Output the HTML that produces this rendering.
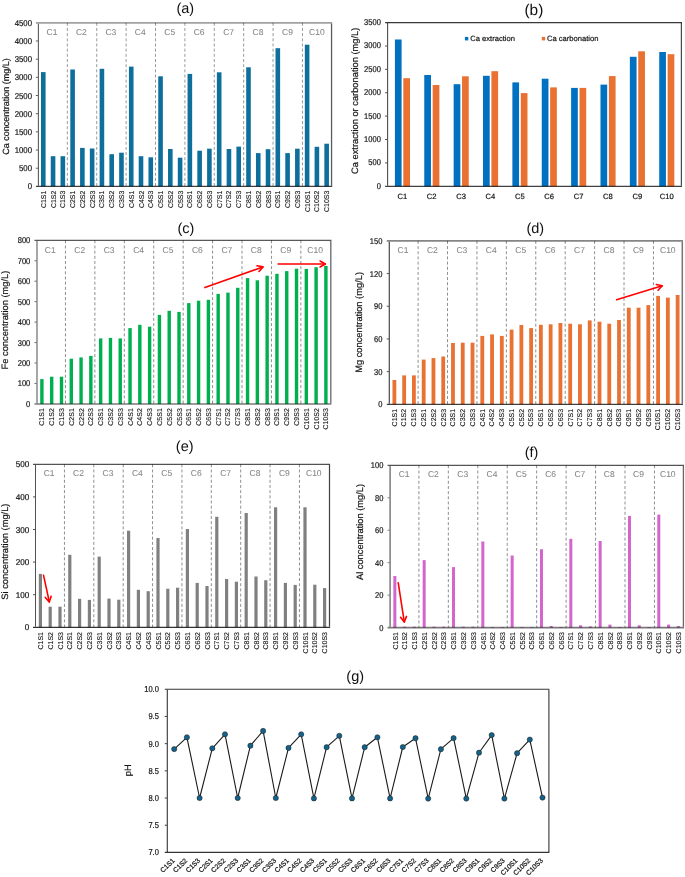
<!DOCTYPE html>
<html><head><meta charset="utf-8"><title>Figure</title>
<style>html,body{margin:0;padding:0;background:#fff;}svg{display:block;}</style>
</head><body>
<svg text-rendering="geometricPrecision" width="685" height="877" viewBox="0 0 685 877" font-family='"Liberation Sans", Arial, sans-serif'>
<rect width="685" height="877" fill="#ffffff"/>
<rect x="40.99" y="72.1" width="4.6" height="114.3" fill="#0f6f9c"/>
<rect x="50.76" y="156.2" width="4.6" height="30.2" fill="#0f6f9c"/>
<rect x="60.53" y="156.2" width="4.6" height="30.2" fill="#0f6f9c"/>
<rect x="70.3" y="69.5" width="4.6" height="116.9" fill="#0f6f9c"/>
<rect x="80.07" y="147.9" width="4.6" height="38.5" fill="#0f6f9c"/>
<rect x="89.84" y="148.5" width="4.6" height="37.9" fill="#0f6f9c"/>
<rect x="99.62" y="68.8" width="4.6" height="117.6" fill="#0f6f9c"/>
<rect x="109.39" y="154.2" width="4.6" height="32.2" fill="#0f6f9c"/>
<rect x="119.16" y="152.7" width="4.6" height="33.7" fill="#0f6f9c"/>
<rect x="128.93" y="66.6" width="4.6" height="119.8" fill="#0f6f9c"/>
<rect x="138.7" y="156.2" width="4.6" height="30.2" fill="#0f6f9c"/>
<rect x="148.47" y="157.3" width="4.6" height="29.1" fill="#0f6f9c"/>
<rect x="158.25" y="76.3" width="4.6" height="110.1" fill="#0f6f9c"/>
<rect x="168.02" y="149" width="4.6" height="37.4" fill="#0f6f9c"/>
<rect x="177.79" y="157.7" width="4.6" height="28.7" fill="#0f6f9c"/>
<rect x="187.56" y="73.9" width="4.6" height="112.5" fill="#0f6f9c"/>
<rect x="197.33" y="150.7" width="4.6" height="35.7" fill="#0f6f9c"/>
<rect x="207.1" y="148.7" width="4.6" height="37.7" fill="#0f6f9c"/>
<rect x="216.88" y="72.3" width="4.6" height="114.1" fill="#0f6f9c"/>
<rect x="226.65" y="149" width="4.6" height="37.4" fill="#0f6f9c"/>
<rect x="236.42" y="146.6" width="4.6" height="39.8" fill="#0f6f9c"/>
<rect x="246.19" y="67.3" width="4.6" height="119.1" fill="#0f6f9c"/>
<rect x="255.96" y="153.1" width="4.6" height="33.3" fill="#0f6f9c"/>
<rect x="265.73" y="149.2" width="4.6" height="37.2" fill="#0f6f9c"/>
<rect x="275.51" y="48.2" width="4.6" height="138.2" fill="#0f6f9c"/>
<rect x="285.28" y="153.1" width="4.6" height="33.3" fill="#0f6f9c"/>
<rect x="295.05" y="148.7" width="4.6" height="37.7" fill="#0f6f9c"/>
<rect x="304.82" y="44.7" width="4.6" height="141.7" fill="#0f6f9c"/>
<rect x="314.59" y="146.8" width="4.6" height="39.6" fill="#0f6f9c"/>
<rect x="324.36" y="143.7" width="4.6" height="42.7" fill="#0f6f9c"/>
<line x1="67.33" y1="22.8" x2="67.33" y2="186.4" stroke="#9a9a9a" stroke-width="1" stroke-dasharray="3,2.17"/>
<line x1="96.72" y1="22.8" x2="96.72" y2="186.4" stroke="#9a9a9a" stroke-width="1" stroke-dasharray="3,2.17"/>
<line x1="126.11" y1="22.8" x2="126.11" y2="186.4" stroke="#9a9a9a" stroke-width="1" stroke-dasharray="3,2.17"/>
<line x1="155.5" y1="22.8" x2="155.5" y2="186.4" stroke="#9a9a9a" stroke-width="1" stroke-dasharray="3,2.17"/>
<line x1="184.88" y1="22.8" x2="184.88" y2="186.4" stroke="#9a9a9a" stroke-width="1" stroke-dasharray="3,2.17"/>
<line x1="214.27" y1="22.8" x2="214.27" y2="186.4" stroke="#9a9a9a" stroke-width="1" stroke-dasharray="3,2.17"/>
<line x1="243.66" y1="22.8" x2="243.66" y2="186.4" stroke="#9a9a9a" stroke-width="1" stroke-dasharray="3,2.17"/>
<line x1="273.05" y1="22.8" x2="273.05" y2="186.4" stroke="#9a9a9a" stroke-width="1" stroke-dasharray="3,2.17"/>
<line x1="302.44" y1="22.8" x2="302.44" y2="186.4" stroke="#9a9a9a" stroke-width="1" stroke-dasharray="3,2.17"/>
<text transform="translate(51.95 34.8)" font-size="8.5" fill="#868686" text-anchor="middle" stroke="#868686" stroke-width="0.06">C1</text>
<text transform="translate(81.39 34.8)" font-size="8.5" fill="#868686" text-anchor="middle" stroke="#868686" stroke-width="0.06">C2</text>
<text transform="translate(110.83 34.8)" font-size="8.5" fill="#868686" text-anchor="middle" stroke="#868686" stroke-width="0.06">C3</text>
<text transform="translate(140.27 34.8)" font-size="8.5" fill="#868686" text-anchor="middle" stroke="#868686" stroke-width="0.06">C4</text>
<text transform="translate(169.71 34.8)" font-size="8.5" fill="#868686" text-anchor="middle" stroke="#868686" stroke-width="0.06">C5</text>
<text transform="translate(199.14 34.8)" font-size="8.5" fill="#868686" text-anchor="middle" stroke="#868686" stroke-width="0.06">C6</text>
<text transform="translate(228.58 34.8)" font-size="8.5" fill="#868686" text-anchor="middle" stroke="#868686" stroke-width="0.06">C7</text>
<text transform="translate(258.02 34.8)" font-size="8.5" fill="#868686" text-anchor="middle" stroke="#868686" stroke-width="0.06">C8</text>
<text transform="translate(287.46 34.8)" font-size="8.5" fill="#868686" text-anchor="middle" stroke="#868686" stroke-width="0.06">C9</text>
<text transform="translate(316.9 34.8)" font-size="8.5" fill="#868686" text-anchor="middle" stroke="#868686" stroke-width="0.06">C10</text>
<line x1="35.9" y1="22.8" x2="332.2" y2="22.8" stroke="#000" stroke-width="1.7" stroke-opacity="0.37"/>
<line x1="331.55" y1="23.65" x2="331.55" y2="185.75" stroke="#000" stroke-width="1.3" stroke-opacity="0.65"/>
<line x1="38.4" y1="23.65" x2="38.4" y2="185.75" stroke="#000" stroke-width="1.1" stroke-opacity="0.65"/>
<line x1="35.9" y1="186.4" x2="332.2" y2="186.4" stroke="#000" stroke-width="1.3" stroke-opacity="0.75"/>
<line x1="35.9" y1="168.22" x2="37.85" y2="168.22" stroke="#000" stroke-width="1" stroke-opacity="0.65"/>
<line x1="35.9" y1="150.04" x2="37.85" y2="150.04" stroke="#000" stroke-width="1" stroke-opacity="0.65"/>
<line x1="35.9" y1="131.87" x2="37.85" y2="131.87" stroke="#000" stroke-width="1" stroke-opacity="0.65"/>
<line x1="35.9" y1="113.69" x2="37.85" y2="113.69" stroke="#000" stroke-width="1" stroke-opacity="0.65"/>
<line x1="35.9" y1="95.51" x2="37.85" y2="95.51" stroke="#000" stroke-width="1" stroke-opacity="0.65"/>
<line x1="35.9" y1="77.33" x2="37.85" y2="77.33" stroke="#000" stroke-width="1" stroke-opacity="0.65"/>
<line x1="35.9" y1="59.16" x2="37.85" y2="59.16" stroke="#000" stroke-width="1" stroke-opacity="0.65"/>
<line x1="35.9" y1="40.98" x2="37.85" y2="40.98" stroke="#000" stroke-width="1" stroke-opacity="0.65"/>
<text transform="translate(32 189.4) scale(0.93 1)" font-size="8.4" fill="#141414" text-anchor="end" stroke="#141414" stroke-width="0.2">0</text>
<text transform="translate(32 171.22) scale(0.93 1)" font-size="8.4" fill="#141414" text-anchor="end" stroke="#141414" stroke-width="0.2">500</text>
<text transform="translate(32 153.04) scale(0.93 1)" font-size="8.4" fill="#141414" text-anchor="end" stroke="#141414" stroke-width="0.2">1000</text>
<text transform="translate(32 134.87) scale(0.93 1)" font-size="8.4" fill="#141414" text-anchor="end" stroke="#141414" stroke-width="0.2">1500</text>
<text transform="translate(32 116.69) scale(0.93 1)" font-size="8.4" fill="#141414" text-anchor="end" stroke="#141414" stroke-width="0.2">2000</text>
<text transform="translate(32 98.51) scale(0.93 1)" font-size="8.4" fill="#141414" text-anchor="end" stroke="#141414" stroke-width="0.2">2500</text>
<text transform="translate(32 80.33) scale(0.93 1)" font-size="8.4" fill="#141414" text-anchor="end" stroke="#141414" stroke-width="0.2">3000</text>
<text transform="translate(32 62.16) scale(0.93 1)" font-size="8.4" fill="#141414" text-anchor="end" stroke="#141414" stroke-width="0.2">3500</text>
<text transform="translate(32 43.98) scale(0.93 1)" font-size="8.4" fill="#141414" text-anchor="end" stroke="#141414" stroke-width="0.2">4000</text>
<text transform="translate(32 25.8) scale(0.93 1)" font-size="8.4" fill="#141414" text-anchor="end" stroke="#141414" stroke-width="0.2">4500</text>
<text transform="translate(45.81 190.6) rotate(-90)" font-size="7" fill="#141414" text-anchor="end" stroke="#141414" stroke-width="0.12">C1S1</text>
<text transform="translate(55.58 190.6) rotate(-90)" font-size="7" fill="#141414" text-anchor="end" stroke="#141414" stroke-width="0.12">C1S2</text>
<text transform="translate(65.35 190.6) rotate(-90)" font-size="7" fill="#141414" text-anchor="end" stroke="#141414" stroke-width="0.12">C1S3</text>
<text transform="translate(75.12 190.6) rotate(-90)" font-size="7" fill="#141414" text-anchor="end" stroke="#141414" stroke-width="0.12">C2S1</text>
<text transform="translate(84.89 190.6) rotate(-90)" font-size="7" fill="#141414" text-anchor="end" stroke="#141414" stroke-width="0.12">C2S2</text>
<text transform="translate(94.66 190.6) rotate(-90)" font-size="7" fill="#141414" text-anchor="end" stroke="#141414" stroke-width="0.12">C2S3</text>
<text transform="translate(104.44 190.6) rotate(-90)" font-size="7" fill="#141414" text-anchor="end" stroke="#141414" stroke-width="0.12">C3S1</text>
<text transform="translate(114.21 190.6) rotate(-90)" font-size="7" fill="#141414" text-anchor="end" stroke="#141414" stroke-width="0.12">C3S2</text>
<text transform="translate(123.98 190.6) rotate(-90)" font-size="7" fill="#141414" text-anchor="end" stroke="#141414" stroke-width="0.12">C3S3</text>
<text transform="translate(133.75 190.6) rotate(-90)" font-size="7" fill="#141414" text-anchor="end" stroke="#141414" stroke-width="0.12">C4S1</text>
<text transform="translate(143.52 190.6) rotate(-90)" font-size="7" fill="#141414" text-anchor="end" stroke="#141414" stroke-width="0.12">C4S2</text>
<text transform="translate(153.29 190.6) rotate(-90)" font-size="7" fill="#141414" text-anchor="end" stroke="#141414" stroke-width="0.12">C4S3</text>
<text transform="translate(163.07 190.6) rotate(-90)" font-size="7" fill="#141414" text-anchor="end" stroke="#141414" stroke-width="0.12">C5S1</text>
<text transform="translate(172.84 190.6) rotate(-90)" font-size="7" fill="#141414" text-anchor="end" stroke="#141414" stroke-width="0.12">C5S2</text>
<text transform="translate(182.61 190.6) rotate(-90)" font-size="7" fill="#141414" text-anchor="end" stroke="#141414" stroke-width="0.12">C5S3</text>
<text transform="translate(192.38 190.6) rotate(-90)" font-size="7" fill="#141414" text-anchor="end" stroke="#141414" stroke-width="0.12">C6S1</text>
<text transform="translate(202.15 190.6) rotate(-90)" font-size="7" fill="#141414" text-anchor="end" stroke="#141414" stroke-width="0.12">C6S2</text>
<text transform="translate(211.92 190.6) rotate(-90)" font-size="7" fill="#141414" text-anchor="end" stroke="#141414" stroke-width="0.12">C6S3</text>
<text transform="translate(221.7 190.6) rotate(-90)" font-size="7" fill="#141414" text-anchor="end" stroke="#141414" stroke-width="0.12">C7S1</text>
<text transform="translate(231.47 190.6) rotate(-90)" font-size="7" fill="#141414" text-anchor="end" stroke="#141414" stroke-width="0.12">C7S2</text>
<text transform="translate(241.24 190.6) rotate(-90)" font-size="7" fill="#141414" text-anchor="end" stroke="#141414" stroke-width="0.12">C7S3</text>
<text transform="translate(251.01 190.6) rotate(-90)" font-size="7" fill="#141414" text-anchor="end" stroke="#141414" stroke-width="0.12">C8S1</text>
<text transform="translate(260.78 190.6) rotate(-90)" font-size="7" fill="#141414" text-anchor="end" stroke="#141414" stroke-width="0.12">C8S2</text>
<text transform="translate(270.55 190.6) rotate(-90)" font-size="7" fill="#141414" text-anchor="end" stroke="#141414" stroke-width="0.12">C8S3</text>
<text transform="translate(280.33 190.6) rotate(-90)" font-size="7" fill="#141414" text-anchor="end" stroke="#141414" stroke-width="0.12">C9S1</text>
<text transform="translate(290.1 190.6) rotate(-90)" font-size="7" fill="#141414" text-anchor="end" stroke="#141414" stroke-width="0.12">C9S2</text>
<text transform="translate(299.87 190.6) rotate(-90)" font-size="7" fill="#141414" text-anchor="end" stroke="#141414" stroke-width="0.12">C9S3</text>
<text transform="translate(309.64 190.6) rotate(-90)" font-size="7" fill="#141414" text-anchor="end" stroke="#141414" stroke-width="0.12">C10S1</text>
<text transform="translate(319.41 190.6) rotate(-90)" font-size="7" fill="#141414" text-anchor="end" stroke="#141414" stroke-width="0.12">C10S2</text>
<text transform="translate(329.18 190.6) rotate(-90)" font-size="7" fill="#141414" text-anchor="end" stroke="#141414" stroke-width="0.12">C10S3</text>
<text transform="translate(8.6 106.6) rotate(-90)" font-size="9" fill="#141414" text-anchor="middle" stroke="#141414" stroke-width="0.2">Ca concentration (mg/L)</text>
<text transform="translate(185.3 12.7)" font-size="14.5" fill="#111" text-anchor="middle">(a)</text>
<rect x="40.2" y="379.1" width="3.4" height="24.8" fill="#00b050"/>
<rect x="49.99" y="376.7" width="3.4" height="27.2" fill="#00b050"/>
<rect x="59.78" y="376.7" width="3.4" height="27.2" fill="#00b050"/>
<rect x="69.58" y="358.7" width="3.4" height="45.2" fill="#00b050"/>
<rect x="79.37" y="357.4" width="3.4" height="46.5" fill="#00b050"/>
<rect x="89.16" y="355.9" width="3.4" height="48" fill="#00b050"/>
<rect x="98.96" y="338.4" width="3.4" height="65.5" fill="#00b050"/>
<rect x="108.75" y="337.9" width="3.4" height="66" fill="#00b050"/>
<rect x="118.54" y="338.4" width="3.4" height="65.5" fill="#00b050"/>
<rect x="128.34" y="328.1" width="3.4" height="75.8" fill="#00b050"/>
<rect x="138.13" y="324.8" width="3.4" height="79.1" fill="#00b050"/>
<rect x="147.92" y="326.7" width="3.4" height="77.2" fill="#00b050"/>
<rect x="157.72" y="314.9" width="3.4" height="89" fill="#00b050"/>
<rect x="167.51" y="310.8" width="3.4" height="93.1" fill="#00b050"/>
<rect x="177.3" y="311.9" width="3.4" height="92" fill="#00b050"/>
<rect x="187.1" y="303.1" width="3.4" height="100.8" fill="#00b050"/>
<rect x="196.89" y="300.7" width="3.4" height="103.2" fill="#00b050"/>
<rect x="206.68" y="299.8" width="3.4" height="104.1" fill="#00b050"/>
<rect x="216.48" y="293.9" width="3.4" height="110" fill="#00b050"/>
<rect x="226.27" y="292.6" width="3.4" height="111.3" fill="#00b050"/>
<rect x="236.06" y="287.8" width="3.4" height="116.1" fill="#00b050"/>
<rect x="245.86" y="278.1" width="3.4" height="125.8" fill="#00b050"/>
<rect x="255.65" y="280.3" width="3.4" height="123.6" fill="#00b050"/>
<rect x="265.44" y="275.7" width="3.4" height="128.2" fill="#00b050"/>
<rect x="275.24" y="273.8" width="3.4" height="130.1" fill="#00b050"/>
<rect x="285.03" y="271.1" width="3.4" height="132.8" fill="#00b050"/>
<rect x="294.82" y="268.7" width="3.4" height="135.2" fill="#00b050"/>
<rect x="304.62" y="268.9" width="3.4" height="135" fill="#00b050"/>
<rect x="314.41" y="267.2" width="3.4" height="136.7" fill="#00b050"/>
<rect x="324.2" y="265.9" width="3.4" height="138" fill="#00b050"/>
<line x1="65.44" y1="240.3" x2="65.44" y2="403.9" stroke="#8f8f8f" stroke-width="1" stroke-dasharray="3,2.17"/>
<line x1="94.87" y1="240.3" x2="94.87" y2="403.9" stroke="#8f8f8f" stroke-width="1" stroke-dasharray="3,2.17"/>
<line x1="124.3" y1="240.3" x2="124.3" y2="403.9" stroke="#8f8f8f" stroke-width="1" stroke-dasharray="3,2.17"/>
<line x1="153.73" y1="240.3" x2="153.73" y2="403.9" stroke="#8f8f8f" stroke-width="1" stroke-dasharray="3,2.17"/>
<line x1="183.16" y1="240.3" x2="183.16" y2="403.9" stroke="#8f8f8f" stroke-width="1" stroke-dasharray="3,2.17"/>
<line x1="212.58" y1="240.3" x2="212.58" y2="403.9" stroke="#8f8f8f" stroke-width="1" stroke-dasharray="3,2.17"/>
<line x1="242.01" y1="240.3" x2="242.01" y2="403.9" stroke="#8f8f8f" stroke-width="1" stroke-dasharray="3,2.17"/>
<line x1="271.44" y1="240.3" x2="271.44" y2="403.9" stroke="#8f8f8f" stroke-width="1" stroke-dasharray="3,2.17"/>
<line x1="300.87" y1="240.3" x2="300.87" y2="403.9" stroke="#8f8f8f" stroke-width="1" stroke-dasharray="3,2.17"/>
<text transform="translate(50.3 252.8)" font-size="8.5" fill="#868686" text-anchor="middle" stroke="#868686" stroke-width="0.06">C1</text>
<text transform="translate(79.72 252.8)" font-size="8.5" fill="#868686" text-anchor="middle" stroke="#868686" stroke-width="0.06">C2</text>
<text transform="translate(109.14 252.8)" font-size="8.5" fill="#868686" text-anchor="middle" stroke="#868686" stroke-width="0.06">C3</text>
<text transform="translate(138.57 252.8)" font-size="8.5" fill="#868686" text-anchor="middle" stroke="#868686" stroke-width="0.06">C4</text>
<text transform="translate(167.99 252.8)" font-size="8.5" fill="#868686" text-anchor="middle" stroke="#868686" stroke-width="0.06">C5</text>
<text transform="translate(197.41 252.8)" font-size="8.5" fill="#868686" text-anchor="middle" stroke="#868686" stroke-width="0.06">C6</text>
<text transform="translate(226.83 252.8)" font-size="8.5" fill="#868686" text-anchor="middle" stroke="#868686" stroke-width="0.06">C7</text>
<text transform="translate(256.26 252.8)" font-size="8.5" fill="#868686" text-anchor="middle" stroke="#868686" stroke-width="0.06">C8</text>
<text transform="translate(285.68 252.8)" font-size="8.5" fill="#868686" text-anchor="middle" stroke="#868686" stroke-width="0.06">C9</text>
<text transform="translate(315.1 252.8)" font-size="8.5" fill="#868686" text-anchor="middle" stroke="#868686" stroke-width="0.06">C10</text>
<line x1="34.5" y1="240.3" x2="331.45" y2="240.3" stroke="#000" stroke-width="1.3" stroke-opacity="0.65"/>
<line x1="330.8" y1="240.95" x2="330.8" y2="403.15" stroke="#000" stroke-width="1.3" stroke-opacity="0.6"/>
<line x1="37" y1="240.95" x2="37" y2="403.15" stroke="#000" stroke-width="1.2" stroke-opacity="0.58"/>
<line x1="34.5" y1="403.9" x2="331.45" y2="403.9" stroke="#000" stroke-width="1.5" stroke-opacity="0.53"/>
<line x1="34.5" y1="383.45" x2="36.4" y2="383.45" stroke="#000" stroke-width="1" stroke-opacity="0.58"/>
<line x1="34.5" y1="363" x2="36.4" y2="363" stroke="#000" stroke-width="1" stroke-opacity="0.58"/>
<line x1="34.5" y1="342.55" x2="36.4" y2="342.55" stroke="#000" stroke-width="1" stroke-opacity="0.58"/>
<line x1="34.5" y1="322.1" x2="36.4" y2="322.1" stroke="#000" stroke-width="1" stroke-opacity="0.58"/>
<line x1="34.5" y1="301.65" x2="36.4" y2="301.65" stroke="#000" stroke-width="1" stroke-opacity="0.58"/>
<line x1="34.5" y1="281.2" x2="36.4" y2="281.2" stroke="#000" stroke-width="1" stroke-opacity="0.58"/>
<line x1="34.5" y1="260.75" x2="36.4" y2="260.75" stroke="#000" stroke-width="1" stroke-opacity="0.58"/>
<text transform="translate(30.3 406.9) scale(0.9 1)" font-size="8.4" fill="#141414" text-anchor="end" stroke="#141414" stroke-width="0.2">0</text>
<text transform="translate(30.3 386.45) scale(0.9 1)" font-size="8.4" fill="#141414" text-anchor="end" stroke="#141414" stroke-width="0.2">100</text>
<text transform="translate(30.3 366) scale(0.9 1)" font-size="8.4" fill="#141414" text-anchor="end" stroke="#141414" stroke-width="0.2">200</text>
<text transform="translate(30.3 345.55) scale(0.9 1)" font-size="8.4" fill="#141414" text-anchor="end" stroke="#141414" stroke-width="0.2">300</text>
<text transform="translate(30.3 325.1) scale(0.9 1)" font-size="8.4" fill="#141414" text-anchor="end" stroke="#141414" stroke-width="0.2">400</text>
<text transform="translate(30.3 304.65) scale(0.9 1)" font-size="8.4" fill="#141414" text-anchor="end" stroke="#141414" stroke-width="0.2">500</text>
<text transform="translate(30.3 284.2) scale(0.9 1)" font-size="8.4" fill="#141414" text-anchor="end" stroke="#141414" stroke-width="0.2">600</text>
<text transform="translate(30.3 263.75) scale(0.9 1)" font-size="8.4" fill="#141414" text-anchor="end" stroke="#141414" stroke-width="0.2">700</text>
<text transform="translate(30.3 243.3) scale(0.9 1)" font-size="8.4" fill="#141414" text-anchor="end" stroke="#141414" stroke-width="0.2">800</text>
<text transform="translate(44.42 408.2) rotate(-90)" font-size="7" fill="#141414" text-anchor="end" stroke="#141414" stroke-width="0.12">C1S1</text>
<text transform="translate(54.21 408.2) rotate(-90)" font-size="7" fill="#141414" text-anchor="end" stroke="#141414" stroke-width="0.12">C1S2</text>
<text transform="translate(64 408.2) rotate(-90)" font-size="7" fill="#141414" text-anchor="end" stroke="#141414" stroke-width="0.12">C1S3</text>
<text transform="translate(73.8 408.2) rotate(-90)" font-size="7" fill="#141414" text-anchor="end" stroke="#141414" stroke-width="0.12">C2S1</text>
<text transform="translate(83.59 408.2) rotate(-90)" font-size="7" fill="#141414" text-anchor="end" stroke="#141414" stroke-width="0.12">C2S2</text>
<text transform="translate(93.38 408.2) rotate(-90)" font-size="7" fill="#141414" text-anchor="end" stroke="#141414" stroke-width="0.12">C2S3</text>
<text transform="translate(103.18 408.2) rotate(-90)" font-size="7" fill="#141414" text-anchor="end" stroke="#141414" stroke-width="0.12">C3S1</text>
<text transform="translate(112.97 408.2) rotate(-90)" font-size="7" fill="#141414" text-anchor="end" stroke="#141414" stroke-width="0.12">C3S2</text>
<text transform="translate(122.76 408.2) rotate(-90)" font-size="7" fill="#141414" text-anchor="end" stroke="#141414" stroke-width="0.12">C3S3</text>
<text transform="translate(132.56 408.2) rotate(-90)" font-size="7" fill="#141414" text-anchor="end" stroke="#141414" stroke-width="0.12">C4S1</text>
<text transform="translate(142.35 408.2) rotate(-90)" font-size="7" fill="#141414" text-anchor="end" stroke="#141414" stroke-width="0.12">C4S2</text>
<text transform="translate(152.14 408.2) rotate(-90)" font-size="7" fill="#141414" text-anchor="end" stroke="#141414" stroke-width="0.12">C4S3</text>
<text transform="translate(161.94 408.2) rotate(-90)" font-size="7" fill="#141414" text-anchor="end" stroke="#141414" stroke-width="0.12">C5S1</text>
<text transform="translate(171.73 408.2) rotate(-90)" font-size="7" fill="#141414" text-anchor="end" stroke="#141414" stroke-width="0.12">C5S2</text>
<text transform="translate(181.52 408.2) rotate(-90)" font-size="7" fill="#141414" text-anchor="end" stroke="#141414" stroke-width="0.12">C5S3</text>
<text transform="translate(191.32 408.2) rotate(-90)" font-size="7" fill="#141414" text-anchor="end" stroke="#141414" stroke-width="0.12">C6S1</text>
<text transform="translate(201.11 408.2) rotate(-90)" font-size="7" fill="#141414" text-anchor="end" stroke="#141414" stroke-width="0.12">C6S2</text>
<text transform="translate(210.9 408.2) rotate(-90)" font-size="7" fill="#141414" text-anchor="end" stroke="#141414" stroke-width="0.12">C6S3</text>
<text transform="translate(220.7 408.2) rotate(-90)" font-size="7" fill="#141414" text-anchor="end" stroke="#141414" stroke-width="0.12">C7S1</text>
<text transform="translate(230.49 408.2) rotate(-90)" font-size="7" fill="#141414" text-anchor="end" stroke="#141414" stroke-width="0.12">C7S2</text>
<text transform="translate(240.28 408.2) rotate(-90)" font-size="7" fill="#141414" text-anchor="end" stroke="#141414" stroke-width="0.12">C7S3</text>
<text transform="translate(250.08 408.2) rotate(-90)" font-size="7" fill="#141414" text-anchor="end" stroke="#141414" stroke-width="0.12">C8S1</text>
<text transform="translate(259.87 408.2) rotate(-90)" font-size="7" fill="#141414" text-anchor="end" stroke="#141414" stroke-width="0.12">C8S2</text>
<text transform="translate(269.66 408.2) rotate(-90)" font-size="7" fill="#141414" text-anchor="end" stroke="#141414" stroke-width="0.12">C8S3</text>
<text transform="translate(279.46 408.2) rotate(-90)" font-size="7" fill="#141414" text-anchor="end" stroke="#141414" stroke-width="0.12">C9S1</text>
<text transform="translate(289.25 408.2) rotate(-90)" font-size="7" fill="#141414" text-anchor="end" stroke="#141414" stroke-width="0.12">C9S2</text>
<text transform="translate(299.04 408.2) rotate(-90)" font-size="7" fill="#141414" text-anchor="end" stroke="#141414" stroke-width="0.12">C9S3</text>
<text transform="translate(308.84 408.2) rotate(-90)" font-size="7" fill="#141414" text-anchor="end" stroke="#141414" stroke-width="0.12">C10S1</text>
<text transform="translate(318.63 408.2) rotate(-90)" font-size="7" fill="#141414" text-anchor="end" stroke="#141414" stroke-width="0.12">C10S2</text>
<text transform="translate(328.42 408.2) rotate(-90)" font-size="7" fill="#141414" text-anchor="end" stroke="#141414" stroke-width="0.12">C10S3</text>
<text transform="translate(7.8 320.1) rotate(-90)" font-size="9.3" fill="#141414" text-anchor="middle" stroke="#141414" stroke-width="0.2">Fe concentration (mg/L)</text>
<text transform="translate(185.9 232.9)" font-size="14.5" fill="#111" text-anchor="middle">(c)</text>
<rect x="392.48" y="380" width="3.8" height="24.3" fill="#e97132"/>
<rect x="402.25" y="375.4" width="3.8" height="28.9" fill="#e97132"/>
<rect x="412.02" y="375.4" width="3.8" height="28.9" fill="#e97132"/>
<rect x="421.78" y="359.6" width="3.8" height="44.7" fill="#e97132"/>
<rect x="431.55" y="358.1" width="3.8" height="46.2" fill="#e97132"/>
<rect x="441.32" y="356.5" width="3.8" height="47.8" fill="#e97132"/>
<rect x="451.08" y="343" width="3.8" height="61.3" fill="#e97132"/>
<rect x="460.85" y="342.7" width="3.8" height="61.6" fill="#e97132"/>
<rect x="470.62" y="342.7" width="3.8" height="61.6" fill="#e97132"/>
<rect x="480.38" y="335.9" width="3.8" height="68.4" fill="#e97132"/>
<rect x="490.15" y="334.4" width="3.8" height="69.9" fill="#e97132"/>
<rect x="499.92" y="335.9" width="3.8" height="68.4" fill="#e97132"/>
<rect x="509.68" y="329.6" width="3.8" height="74.7" fill="#e97132"/>
<rect x="519.45" y="325" width="3.8" height="79.3" fill="#e97132"/>
<rect x="529.22" y="328.1" width="3.8" height="76.2" fill="#e97132"/>
<rect x="538.98" y="324.8" width="3.8" height="79.5" fill="#e97132"/>
<rect x="548.75" y="324.3" width="3.8" height="80" fill="#e97132"/>
<rect x="558.52" y="323" width="3.8" height="81.3" fill="#e97132"/>
<rect x="568.28" y="323.7" width="3.8" height="80.6" fill="#e97132"/>
<rect x="578.05" y="324.3" width="3.8" height="80" fill="#e97132"/>
<rect x="587.82" y="320.4" width="3.8" height="83.9" fill="#e97132"/>
<rect x="597.58" y="321.7" width="3.8" height="82.6" fill="#e97132"/>
<rect x="607.35" y="323.7" width="3.8" height="80.6" fill="#e97132"/>
<rect x="617.12" y="320" width="3.8" height="84.3" fill="#e97132"/>
<rect x="626.88" y="307.7" width="3.8" height="96.6" fill="#e97132"/>
<rect x="636.65" y="307.7" width="3.8" height="96.6" fill="#e97132"/>
<rect x="646.42" y="305.1" width="3.8" height="99.2" fill="#e97132"/>
<rect x="656.18" y="295.9" width="3.8" height="108.4" fill="#e97132"/>
<rect x="665.95" y="297.6" width="3.8" height="106.7" fill="#e97132"/>
<rect x="675.72" y="295" width="3.8" height="109.3" fill="#e97132"/>
<line x1="418.1" y1="240.9" x2="418.1" y2="404.3" stroke="#8f8f8f" stroke-width="1" stroke-dasharray="3,2.17"/>
<line x1="447.52" y1="240.9" x2="447.52" y2="404.3" stroke="#8f8f8f" stroke-width="1" stroke-dasharray="3,2.17"/>
<line x1="476.94" y1="240.9" x2="476.94" y2="404.3" stroke="#8f8f8f" stroke-width="1" stroke-dasharray="3,2.17"/>
<line x1="506.35" y1="240.9" x2="506.35" y2="404.3" stroke="#8f8f8f" stroke-width="1" stroke-dasharray="3,2.17"/>
<line x1="535.77" y1="240.9" x2="535.77" y2="404.3" stroke="#8f8f8f" stroke-width="1" stroke-dasharray="3,2.17"/>
<line x1="565.19" y1="240.9" x2="565.19" y2="404.3" stroke="#8f8f8f" stroke-width="1" stroke-dasharray="3,2.17"/>
<line x1="594.61" y1="240.9" x2="594.61" y2="404.3" stroke="#8f8f8f" stroke-width="1" stroke-dasharray="3,2.17"/>
<line x1="624.02" y1="240.9" x2="624.02" y2="404.3" stroke="#8f8f8f" stroke-width="1" stroke-dasharray="3,2.17"/>
<line x1="653.44" y1="240.9" x2="653.44" y2="404.3" stroke="#8f8f8f" stroke-width="1" stroke-dasharray="3,2.17"/>
<text transform="translate(403 252.9)" font-size="8.5" fill="#868686" text-anchor="middle" stroke="#868686" stroke-width="0.06">C1</text>
<text transform="translate(432.42 252.9)" font-size="8.5" fill="#868686" text-anchor="middle" stroke="#868686" stroke-width="0.06">C2</text>
<text transform="translate(461.84 252.9)" font-size="8.5" fill="#868686" text-anchor="middle" stroke="#868686" stroke-width="0.06">C3</text>
<text transform="translate(491.27 252.9)" font-size="8.5" fill="#868686" text-anchor="middle" stroke="#868686" stroke-width="0.06">C4</text>
<text transform="translate(520.69 252.9)" font-size="8.5" fill="#868686" text-anchor="middle" stroke="#868686" stroke-width="0.06">C5</text>
<text transform="translate(550.11 252.9)" font-size="8.5" fill="#868686" text-anchor="middle" stroke="#868686" stroke-width="0.06">C6</text>
<text transform="translate(579.53 252.9)" font-size="8.5" fill="#868686" text-anchor="middle" stroke="#868686" stroke-width="0.06">C7</text>
<text transform="translate(608.96 252.9)" font-size="8.5" fill="#868686" text-anchor="middle" stroke="#868686" stroke-width="0.06">C8</text>
<text transform="translate(638.38 252.9)" font-size="8.5" fill="#868686" text-anchor="middle" stroke="#868686" stroke-width="0.06">C9</text>
<text transform="translate(667.8 252.9)" font-size="8.5" fill="#868686" text-anchor="middle" stroke="#868686" stroke-width="0.06">C10</text>
<line x1="386.8" y1="240.9" x2="683.05" y2="240.9" stroke="#000" stroke-width="1.7" stroke-opacity="0.48"/>
<line x1="682.3" y1="241.75" x2="682.3" y2="403.65" stroke="#000" stroke-width="1.5" stroke-opacity="0.55"/>
<line x1="389.3" y1="241.75" x2="389.3" y2="403.65" stroke="#000" stroke-width="1.2" stroke-opacity="0.72"/>
<line x1="386.8" y1="404.3" x2="683.05" y2="404.3" stroke="#000" stroke-width="1.3" stroke-opacity="0.75"/>
<line x1="386.8" y1="371.62" x2="388.7" y2="371.62" stroke="#000" stroke-width="1" stroke-opacity="0.72"/>
<line x1="386.8" y1="338.94" x2="388.7" y2="338.94" stroke="#000" stroke-width="1" stroke-opacity="0.72"/>
<line x1="386.8" y1="306.26" x2="388.7" y2="306.26" stroke="#000" stroke-width="1" stroke-opacity="0.72"/>
<line x1="386.8" y1="273.58" x2="388.7" y2="273.58" stroke="#000" stroke-width="1" stroke-opacity="0.72"/>
<text transform="translate(382.4 407.3) scale(0.9 1)" font-size="8.4" fill="#141414" text-anchor="end" stroke="#141414" stroke-width="0.2">0</text>
<text transform="translate(382.4 374.62) scale(0.9 1)" font-size="8.4" fill="#141414" text-anchor="end" stroke="#141414" stroke-width="0.2">30</text>
<text transform="translate(382.4 341.94) scale(0.9 1)" font-size="8.4" fill="#141414" text-anchor="end" stroke="#141414" stroke-width="0.2">60</text>
<text transform="translate(382.4 309.26) scale(0.9 1)" font-size="8.4" fill="#141414" text-anchor="end" stroke="#141414" stroke-width="0.2">90</text>
<text transform="translate(382.4 276.58) scale(0.9 1)" font-size="8.4" fill="#141414" text-anchor="end" stroke="#141414" stroke-width="0.2">120</text>
<text transform="translate(382.4 243.9) scale(0.9 1)" font-size="8.4" fill="#141414" text-anchor="end" stroke="#141414" stroke-width="0.2">150</text>
<text transform="translate(396.7 408.9) rotate(-90)" font-size="7" fill="#141414" text-anchor="end" stroke="#141414" stroke-width="0.12">C1S1</text>
<text transform="translate(406.47 408.9) rotate(-90)" font-size="7" fill="#141414" text-anchor="end" stroke="#141414" stroke-width="0.12">C1S2</text>
<text transform="translate(416.24 408.9) rotate(-90)" font-size="7" fill="#141414" text-anchor="end" stroke="#141414" stroke-width="0.12">C1S3</text>
<text transform="translate(426 408.9) rotate(-90)" font-size="7" fill="#141414" text-anchor="end" stroke="#141414" stroke-width="0.12">C2S1</text>
<text transform="translate(435.77 408.9) rotate(-90)" font-size="7" fill="#141414" text-anchor="end" stroke="#141414" stroke-width="0.12">C2S2</text>
<text transform="translate(445.54 408.9) rotate(-90)" font-size="7" fill="#141414" text-anchor="end" stroke="#141414" stroke-width="0.12">C2S3</text>
<text transform="translate(455.3 408.9) rotate(-90)" font-size="7" fill="#141414" text-anchor="end" stroke="#141414" stroke-width="0.12">C3S1</text>
<text transform="translate(465.07 408.9) rotate(-90)" font-size="7" fill="#141414" text-anchor="end" stroke="#141414" stroke-width="0.12">C3S2</text>
<text transform="translate(474.84 408.9) rotate(-90)" font-size="7" fill="#141414" text-anchor="end" stroke="#141414" stroke-width="0.12">C3S3</text>
<text transform="translate(484.6 408.9) rotate(-90)" font-size="7" fill="#141414" text-anchor="end" stroke="#141414" stroke-width="0.12">C4S1</text>
<text transform="translate(494.37 408.9) rotate(-90)" font-size="7" fill="#141414" text-anchor="end" stroke="#141414" stroke-width="0.12">C4S2</text>
<text transform="translate(504.14 408.9) rotate(-90)" font-size="7" fill="#141414" text-anchor="end" stroke="#141414" stroke-width="0.12">C4S3</text>
<text transform="translate(513.9 408.9) rotate(-90)" font-size="7" fill="#141414" text-anchor="end" stroke="#141414" stroke-width="0.12">C5S1</text>
<text transform="translate(523.67 408.9) rotate(-90)" font-size="7" fill="#141414" text-anchor="end" stroke="#141414" stroke-width="0.12">C5S2</text>
<text transform="translate(533.44 408.9) rotate(-90)" font-size="7" fill="#141414" text-anchor="end" stroke="#141414" stroke-width="0.12">C5S3</text>
<text transform="translate(543.2 408.9) rotate(-90)" font-size="7" fill="#141414" text-anchor="end" stroke="#141414" stroke-width="0.12">C6S1</text>
<text transform="translate(552.97 408.9) rotate(-90)" font-size="7" fill="#141414" text-anchor="end" stroke="#141414" stroke-width="0.12">C6S2</text>
<text transform="translate(562.74 408.9) rotate(-90)" font-size="7" fill="#141414" text-anchor="end" stroke="#141414" stroke-width="0.12">C6S3</text>
<text transform="translate(572.5 408.9) rotate(-90)" font-size="7" fill="#141414" text-anchor="end" stroke="#141414" stroke-width="0.12">C7S1</text>
<text transform="translate(582.27 408.9) rotate(-90)" font-size="7" fill="#141414" text-anchor="end" stroke="#141414" stroke-width="0.12">C7S2</text>
<text transform="translate(592.04 408.9) rotate(-90)" font-size="7" fill="#141414" text-anchor="end" stroke="#141414" stroke-width="0.12">C7S3</text>
<text transform="translate(601.8 408.9) rotate(-90)" font-size="7" fill="#141414" text-anchor="end" stroke="#141414" stroke-width="0.12">C8S1</text>
<text transform="translate(611.57 408.9) rotate(-90)" font-size="7" fill="#141414" text-anchor="end" stroke="#141414" stroke-width="0.12">C8S2</text>
<text transform="translate(621.34 408.9) rotate(-90)" font-size="7" fill="#141414" text-anchor="end" stroke="#141414" stroke-width="0.12">C8S3</text>
<text transform="translate(631.1 408.9) rotate(-90)" font-size="7" fill="#141414" text-anchor="end" stroke="#141414" stroke-width="0.12">C9S1</text>
<text transform="translate(640.87 408.9) rotate(-90)" font-size="7" fill="#141414" text-anchor="end" stroke="#141414" stroke-width="0.12">C9S2</text>
<text transform="translate(650.64 408.9) rotate(-90)" font-size="7" fill="#141414" text-anchor="end" stroke="#141414" stroke-width="0.12">C9S3</text>
<text transform="translate(660.4 408.9) rotate(-90)" font-size="7" fill="#141414" text-anchor="end" stroke="#141414" stroke-width="0.12">C10S1</text>
<text transform="translate(670.17 408.9) rotate(-90)" font-size="7" fill="#141414" text-anchor="end" stroke="#141414" stroke-width="0.12">C10S2</text>
<text transform="translate(679.94 408.9) rotate(-90)" font-size="7" fill="#141414" text-anchor="end" stroke="#141414" stroke-width="0.12">C10S3</text>
<text transform="translate(361.8 322.4) rotate(-90)" font-size="9.3" fill="#141414" text-anchor="middle" stroke="#141414" stroke-width="0.2">Mg concentration (mg/L)</text>
<text transform="translate(535.3 232.9)" font-size="14.5" fill="#111" text-anchor="middle">(d)</text>
<rect x="38.8" y="573.9" width="3.2" height="53.4" fill="#808080"/>
<rect x="48.6" y="606.7" width="3.2" height="20.6" fill="#808080"/>
<rect x="58.4" y="606.7" width="3.2" height="20.6" fill="#808080"/>
<rect x="68.2" y="554.8" width="3.2" height="72.5" fill="#808080"/>
<rect x="78" y="598.8" width="3.2" height="28.5" fill="#808080"/>
<rect x="87.8" y="599.9" width="3.2" height="27.4" fill="#808080"/>
<rect x="97.6" y="556.6" width="3.2" height="70.7" fill="#808080"/>
<rect x="107.4" y="598.6" width="3.2" height="28.7" fill="#808080"/>
<rect x="117.2" y="599.7" width="3.2" height="27.6" fill="#808080"/>
<rect x="127" y="530.7" width="3.2" height="96.6" fill="#808080"/>
<rect x="136.8" y="589.8" width="3.2" height="37.5" fill="#808080"/>
<rect x="146.6" y="591.2" width="3.2" height="36.1" fill="#808080"/>
<rect x="156.4" y="538" width="3.2" height="89.3" fill="#808080"/>
<rect x="166.2" y="588.7" width="3.2" height="38.6" fill="#808080"/>
<rect x="176" y="587.7" width="3.2" height="39.6" fill="#808080"/>
<rect x="185.8" y="529" width="3.2" height="98.3" fill="#808080"/>
<rect x="195.6" y="582.9" width="3.2" height="44.4" fill="#808080"/>
<rect x="205.4" y="586" width="3.2" height="41.3" fill="#808080"/>
<rect x="215.2" y="516.8" width="3.2" height="110.5" fill="#808080"/>
<rect x="225" y="579" width="3.2" height="48.3" fill="#808080"/>
<rect x="234.8" y="581.7" width="3.2" height="45.6" fill="#808080"/>
<rect x="244.6" y="513" width="3.2" height="114.3" fill="#808080"/>
<rect x="254.4" y="576.5" width="3.2" height="50.8" fill="#808080"/>
<rect x="264.2" y="580.2" width="3.2" height="47.1" fill="#808080"/>
<rect x="274" y="507.3" width="3.2" height="120" fill="#808080"/>
<rect x="283.8" y="582.9" width="3.2" height="44.4" fill="#808080"/>
<rect x="293.6" y="584.9" width="3.2" height="42.4" fill="#808080"/>
<rect x="303.4" y="507.3" width="3.2" height="120" fill="#808080"/>
<rect x="313.2" y="584.7" width="3.2" height="42.6" fill="#808080"/>
<rect x="323" y="588.1" width="3.2" height="39.2" fill="#808080"/>
<line x1="64.44" y1="464.3" x2="64.44" y2="627.3" stroke="#8f8f8f" stroke-width="1" stroke-dasharray="3,2.17"/>
<line x1="93.81" y1="464.3" x2="93.81" y2="627.3" stroke="#8f8f8f" stroke-width="1" stroke-dasharray="3,2.17"/>
<line x1="123.19" y1="464.3" x2="123.19" y2="627.3" stroke="#8f8f8f" stroke-width="1" stroke-dasharray="3,2.17"/>
<line x1="152.56" y1="464.3" x2="152.56" y2="627.3" stroke="#8f8f8f" stroke-width="1" stroke-dasharray="3,2.17"/>
<line x1="181.94" y1="464.3" x2="181.94" y2="627.3" stroke="#8f8f8f" stroke-width="1" stroke-dasharray="3,2.17"/>
<line x1="211.31" y1="464.3" x2="211.31" y2="627.3" stroke="#8f8f8f" stroke-width="1" stroke-dasharray="3,2.17"/>
<line x1="240.69" y1="464.3" x2="240.69" y2="627.3" stroke="#8f8f8f" stroke-width="1" stroke-dasharray="3,2.17"/>
<line x1="270.06" y1="464.3" x2="270.06" y2="627.3" stroke="#8f8f8f" stroke-width="1" stroke-dasharray="3,2.17"/>
<line x1="299.44" y1="464.3" x2="299.44" y2="627.3" stroke="#8f8f8f" stroke-width="1" stroke-dasharray="3,2.17"/>
<text transform="translate(49.15 476.2)" font-size="8.5" fill="#868686" text-anchor="middle" stroke="#868686" stroke-width="0.06">C1</text>
<text transform="translate(78.56 476.2)" font-size="8.5" fill="#868686" text-anchor="middle" stroke="#868686" stroke-width="0.06">C2</text>
<text transform="translate(107.96 476.2)" font-size="8.5" fill="#868686" text-anchor="middle" stroke="#868686" stroke-width="0.06">C3</text>
<text transform="translate(137.37 476.2)" font-size="8.5" fill="#868686" text-anchor="middle" stroke="#868686" stroke-width="0.06">C4</text>
<text transform="translate(166.77 476.2)" font-size="8.5" fill="#868686" text-anchor="middle" stroke="#868686" stroke-width="0.06">C5</text>
<text transform="translate(196.18 476.2)" font-size="8.5" fill="#868686" text-anchor="middle" stroke="#868686" stroke-width="0.06">C6</text>
<text transform="translate(225.58 476.2)" font-size="8.5" fill="#868686" text-anchor="middle" stroke="#868686" stroke-width="0.06">C7</text>
<text transform="translate(254.99 476.2)" font-size="8.5" fill="#868686" text-anchor="middle" stroke="#868686" stroke-width="0.06">C8</text>
<text transform="translate(284.39 476.2)" font-size="8.5" fill="#868686" text-anchor="middle" stroke="#868686" stroke-width="0.06">C9</text>
<text transform="translate(313.8 476.2)" font-size="8.5" fill="#868686" text-anchor="middle" stroke="#868686" stroke-width="0.06">C10</text>
<line x1="33" y1="464.3" x2="330.1" y2="464.3" stroke="#000" stroke-width="1.2" stroke-opacity="0.68"/>
<line x1="329.5" y1="464.9" x2="329.5" y2="626.65" stroke="#000" stroke-width="1.2" stroke-opacity="0.75"/>
<line x1="35.5" y1="464.9" x2="35.5" y2="626.65" stroke="#000" stroke-width="1" stroke-opacity="0.68"/>
<line x1="33" y1="627.3" x2="330.1" y2="627.3" stroke="#000" stroke-width="1.3" stroke-opacity="0.8"/>
<line x1="33" y1="594.7" x2="35" y2="594.7" stroke="#000" stroke-width="1" stroke-opacity="0.68"/>
<line x1="33" y1="562.1" x2="35" y2="562.1" stroke="#000" stroke-width="1" stroke-opacity="0.68"/>
<line x1="33" y1="529.5" x2="35" y2="529.5" stroke="#000" stroke-width="1" stroke-opacity="0.68"/>
<line x1="33" y1="496.9" x2="35" y2="496.9" stroke="#000" stroke-width="1" stroke-opacity="0.68"/>
<text transform="translate(29.2 630.3) scale(0.97 1)" font-size="8.4" fill="#141414" text-anchor="end" stroke="#141414" stroke-width="0.2">0</text>
<text transform="translate(29.2 597.7) scale(0.97 1)" font-size="8.4" fill="#141414" text-anchor="end" stroke="#141414" stroke-width="0.2">100</text>
<text transform="translate(29.2 565.1) scale(0.97 1)" font-size="8.4" fill="#141414" text-anchor="end" stroke="#141414" stroke-width="0.2">200</text>
<text transform="translate(29.2 532.5) scale(0.97 1)" font-size="8.4" fill="#141414" text-anchor="end" stroke="#141414" stroke-width="0.2">300</text>
<text transform="translate(29.2 499.9) scale(0.97 1)" font-size="8.4" fill="#141414" text-anchor="end" stroke="#141414" stroke-width="0.2">400</text>
<text transform="translate(29.2 467.3) scale(0.97 1)" font-size="8.4" fill="#141414" text-anchor="end" stroke="#141414" stroke-width="0.2">500</text>
<text transform="translate(42.92 632) rotate(-90)" font-size="7" fill="#141414" text-anchor="end" stroke="#141414" stroke-width="0.12">C1S1</text>
<text transform="translate(52.72 632) rotate(-90)" font-size="7" fill="#141414" text-anchor="end" stroke="#141414" stroke-width="0.12">C1S2</text>
<text transform="translate(62.52 632) rotate(-90)" font-size="7" fill="#141414" text-anchor="end" stroke="#141414" stroke-width="0.12">C1S3</text>
<text transform="translate(72.32 632) rotate(-90)" font-size="7" fill="#141414" text-anchor="end" stroke="#141414" stroke-width="0.12">C2S1</text>
<text transform="translate(82.12 632) rotate(-90)" font-size="7" fill="#141414" text-anchor="end" stroke="#141414" stroke-width="0.12">C2S2</text>
<text transform="translate(91.92 632) rotate(-90)" font-size="7" fill="#141414" text-anchor="end" stroke="#141414" stroke-width="0.12">C2S3</text>
<text transform="translate(101.72 632) rotate(-90)" font-size="7" fill="#141414" text-anchor="end" stroke="#141414" stroke-width="0.12">C3S1</text>
<text transform="translate(111.52 632) rotate(-90)" font-size="7" fill="#141414" text-anchor="end" stroke="#141414" stroke-width="0.12">C3S2</text>
<text transform="translate(121.32 632) rotate(-90)" font-size="7" fill="#141414" text-anchor="end" stroke="#141414" stroke-width="0.12">C3S3</text>
<text transform="translate(131.12 632) rotate(-90)" font-size="7" fill="#141414" text-anchor="end" stroke="#141414" stroke-width="0.12">C4S1</text>
<text transform="translate(140.92 632) rotate(-90)" font-size="7" fill="#141414" text-anchor="end" stroke="#141414" stroke-width="0.12">C4S2</text>
<text transform="translate(150.72 632) rotate(-90)" font-size="7" fill="#141414" text-anchor="end" stroke="#141414" stroke-width="0.12">C4S3</text>
<text transform="translate(160.52 632) rotate(-90)" font-size="7" fill="#141414" text-anchor="end" stroke="#141414" stroke-width="0.12">C5S1</text>
<text transform="translate(170.32 632) rotate(-90)" font-size="7" fill="#141414" text-anchor="end" stroke="#141414" stroke-width="0.12">C5S2</text>
<text transform="translate(180.12 632) rotate(-90)" font-size="7" fill="#141414" text-anchor="end" stroke="#141414" stroke-width="0.12">C5S3</text>
<text transform="translate(189.92 632) rotate(-90)" font-size="7" fill="#141414" text-anchor="end" stroke="#141414" stroke-width="0.12">C6S1</text>
<text transform="translate(199.72 632) rotate(-90)" font-size="7" fill="#141414" text-anchor="end" stroke="#141414" stroke-width="0.12">C6S2</text>
<text transform="translate(209.52 632) rotate(-90)" font-size="7" fill="#141414" text-anchor="end" stroke="#141414" stroke-width="0.12">C6S3</text>
<text transform="translate(219.32 632) rotate(-90)" font-size="7" fill="#141414" text-anchor="end" stroke="#141414" stroke-width="0.12">C7S1</text>
<text transform="translate(229.12 632) rotate(-90)" font-size="7" fill="#141414" text-anchor="end" stroke="#141414" stroke-width="0.12">C7S2</text>
<text transform="translate(238.92 632) rotate(-90)" font-size="7" fill="#141414" text-anchor="end" stroke="#141414" stroke-width="0.12">C7S3</text>
<text transform="translate(248.72 632) rotate(-90)" font-size="7" fill="#141414" text-anchor="end" stroke="#141414" stroke-width="0.12">C8S1</text>
<text transform="translate(258.52 632) rotate(-90)" font-size="7" fill="#141414" text-anchor="end" stroke="#141414" stroke-width="0.12">C8S2</text>
<text transform="translate(268.32 632) rotate(-90)" font-size="7" fill="#141414" text-anchor="end" stroke="#141414" stroke-width="0.12">C8S3</text>
<text transform="translate(278.12 632) rotate(-90)" font-size="7" fill="#141414" text-anchor="end" stroke="#141414" stroke-width="0.12">C9S1</text>
<text transform="translate(287.92 632) rotate(-90)" font-size="7" fill="#141414" text-anchor="end" stroke="#141414" stroke-width="0.12">C9S2</text>
<text transform="translate(297.72 632) rotate(-90)" font-size="7" fill="#141414" text-anchor="end" stroke="#141414" stroke-width="0.12">C9S3</text>
<text transform="translate(307.52 632) rotate(-90)" font-size="7" fill="#141414" text-anchor="end" stroke="#141414" stroke-width="0.12">C10S1</text>
<text transform="translate(317.32 632) rotate(-90)" font-size="7" fill="#141414" text-anchor="end" stroke="#141414" stroke-width="0.12">C10S2</text>
<text transform="translate(327.12 632) rotate(-90)" font-size="7" fill="#141414" text-anchor="end" stroke="#141414" stroke-width="0.12">C10S3</text>
<text transform="translate(8.4 551.6) rotate(-90)" font-size="9.3" fill="#141414" text-anchor="middle" stroke="#141414" stroke-width="0.2">Si concentration (mg/L)</text>
<text transform="translate(184.7 450.8)" font-size="14.5" fill="#111" text-anchor="middle">(e)</text>
<rect x="393.34" y="576" width="3" height="51.6" fill="#d465cc"/>
<rect x="403.12" y="626.7" width="3" height="0.9" fill="#d465cc"/>
<rect x="412.89" y="626.7" width="3" height="0.9" fill="#d465cc"/>
<rect x="422.67" y="560.1" width="3" height="67.5" fill="#d465cc"/>
<rect x="432.45" y="626.7" width="3" height="0.9" fill="#d465cc"/>
<rect x="442.22" y="626.7" width="3" height="0.9" fill="#d465cc"/>
<rect x="452" y="567.1" width="3" height="60.5" fill="#d465cc"/>
<rect x="461.78" y="626.7" width="3" height="0.9" fill="#d465cc"/>
<rect x="471.55" y="626.7" width="3" height="0.9" fill="#d465cc"/>
<rect x="481.33" y="541.5" width="3" height="86.1" fill="#d465cc"/>
<rect x="491.11" y="627" width="3" height="0.6" fill="#d465cc"/>
<rect x="500.88" y="627" width="3" height="0.6" fill="#d465cc"/>
<rect x="510.66" y="555.5" width="3" height="72.1" fill="#d465cc"/>
<rect x="520.44" y="627" width="3" height="0.6" fill="#d465cc"/>
<rect x="530.21" y="627" width="3" height="0.6" fill="#d465cc"/>
<rect x="539.99" y="549.2" width="3" height="78.4" fill="#d465cc"/>
<rect x="549.76" y="626" width="3" height="1.6" fill="#d465cc"/>
<rect x="559.54" y="627" width="3" height="0.6" fill="#d465cc"/>
<rect x="569.32" y="538.8" width="3" height="88.8" fill="#d465cc"/>
<rect x="579.1" y="625.3" width="3" height="2.3" fill="#d465cc"/>
<rect x="588.87" y="626.4" width="3" height="1.2" fill="#d465cc"/>
<rect x="598.65" y="541" width="3" height="86.6" fill="#d465cc"/>
<rect x="608.43" y="624.6" width="3" height="3" fill="#d465cc"/>
<rect x="618.2" y="627" width="3" height="0.6" fill="#d465cc"/>
<rect x="627.98" y="515.9" width="3" height="111.7" fill="#d465cc"/>
<rect x="637.75" y="625.3" width="3" height="2.3" fill="#d465cc"/>
<rect x="647.53" y="627" width="3" height="0.6" fill="#d465cc"/>
<rect x="657.31" y="514.6" width="3" height="113" fill="#d465cc"/>
<rect x="667.09" y="624.6" width="3" height="3" fill="#d465cc"/>
<rect x="676.86" y="626" width="3" height="1.6" fill="#d465cc"/>
<line x1="418.9" y1="465.3" x2="418.9" y2="627.6" stroke="#8f8f8f" stroke-width="1" stroke-dasharray="3,2.17"/>
<line x1="448.34" y1="465.3" x2="448.34" y2="627.6" stroke="#8f8f8f" stroke-width="1" stroke-dasharray="3,2.17"/>
<line x1="477.78" y1="465.3" x2="477.78" y2="627.6" stroke="#8f8f8f" stroke-width="1" stroke-dasharray="3,2.17"/>
<line x1="507.23" y1="465.3" x2="507.23" y2="627.6" stroke="#8f8f8f" stroke-width="1" stroke-dasharray="3,2.17"/>
<line x1="536.67" y1="465.3" x2="536.67" y2="627.6" stroke="#8f8f8f" stroke-width="1" stroke-dasharray="3,2.17"/>
<line x1="566.11" y1="465.3" x2="566.11" y2="627.6" stroke="#8f8f8f" stroke-width="1" stroke-dasharray="3,2.17"/>
<line x1="595.56" y1="465.3" x2="595.56" y2="627.6" stroke="#8f8f8f" stroke-width="1" stroke-dasharray="3,2.17"/>
<line x1="625" y1="465.3" x2="625" y2="627.6" stroke="#8f8f8f" stroke-width="1" stroke-dasharray="3,2.17"/>
<line x1="654.44" y1="465.3" x2="654.44" y2="627.6" stroke="#8f8f8f" stroke-width="1" stroke-dasharray="3,2.17"/>
<text transform="translate(404.1 476.5)" font-size="8.5" fill="#868686" text-anchor="middle" stroke="#868686" stroke-width="0.06">C1</text>
<text transform="translate(433.4 476.5)" font-size="8.5" fill="#868686" text-anchor="middle" stroke="#868686" stroke-width="0.06">C2</text>
<text transform="translate(462.7 476.5)" font-size="8.5" fill="#868686" text-anchor="middle" stroke="#868686" stroke-width="0.06">C3</text>
<text transform="translate(492 476.5)" font-size="8.5" fill="#868686" text-anchor="middle" stroke="#868686" stroke-width="0.06">C4</text>
<text transform="translate(521.3 476.5)" font-size="8.5" fill="#868686" text-anchor="middle" stroke="#868686" stroke-width="0.06">C5</text>
<text transform="translate(550.6 476.5)" font-size="8.5" fill="#868686" text-anchor="middle" stroke="#868686" stroke-width="0.06">C6</text>
<text transform="translate(579.9 476.5)" font-size="8.5" fill="#868686" text-anchor="middle" stroke="#868686" stroke-width="0.06">C7</text>
<text transform="translate(609.2 476.5)" font-size="8.5" fill="#868686" text-anchor="middle" stroke="#868686" stroke-width="0.06">C8</text>
<text transform="translate(638.5 476.5)" font-size="8.5" fill="#868686" text-anchor="middle" stroke="#868686" stroke-width="0.06">C9</text>
<text transform="translate(667.8 476.5)" font-size="8.5" fill="#868686" text-anchor="middle" stroke="#868686" stroke-width="0.06">C10</text>
<line x1="387.6" y1="465.3" x2="684.05" y2="465.3" stroke="#000" stroke-width="1.2" stroke-opacity="0.67"/>
<line x1="683.4" y1="465.9" x2="683.4" y2="626.8" stroke="#000" stroke-width="1.3" stroke-opacity="0.6"/>
<line x1="390.1" y1="465.9" x2="390.1" y2="626.8" stroke="#000" stroke-width="1.5" stroke-opacity="0.52"/>
<line x1="387.6" y1="627.6" x2="684.05" y2="627.6" stroke="#000" stroke-width="1.6" stroke-opacity="0.53"/>
<line x1="387.6" y1="595.14" x2="389.35" y2="595.14" stroke="#000" stroke-width="1" stroke-opacity="0.52"/>
<line x1="387.6" y1="562.68" x2="389.35" y2="562.68" stroke="#000" stroke-width="1" stroke-opacity="0.52"/>
<line x1="387.6" y1="530.22" x2="389.35" y2="530.22" stroke="#000" stroke-width="1" stroke-opacity="0.52"/>
<line x1="387.6" y1="497.76" x2="389.35" y2="497.76" stroke="#000" stroke-width="1" stroke-opacity="0.52"/>
<text transform="translate(383.4 630.6) scale(0.9 1)" font-size="8.4" fill="#141414" text-anchor="end" stroke="#141414" stroke-width="0.2">0</text>
<text transform="translate(383.4 598.14) scale(0.9 1)" font-size="8.4" fill="#141414" text-anchor="end" stroke="#141414" stroke-width="0.2">20</text>
<text transform="translate(383.4 565.68) scale(0.9 1)" font-size="8.4" fill="#141414" text-anchor="end" stroke="#141414" stroke-width="0.2">40</text>
<text transform="translate(383.4 533.22) scale(0.9 1)" font-size="8.4" fill="#141414" text-anchor="end" stroke="#141414" stroke-width="0.2">60</text>
<text transform="translate(383.4 500.76) scale(0.9 1)" font-size="8.4" fill="#141414" text-anchor="end" stroke="#141414" stroke-width="0.2">80</text>
<text transform="translate(383.4 468.3) scale(0.9 1)" font-size="8.4" fill="#141414" text-anchor="end" stroke="#141414" stroke-width="0.2">100</text>
<text transform="translate(397.51 632) rotate(-90)" font-size="7" fill="#141414" text-anchor="end" stroke="#141414" stroke-width="0.12">C1S1</text>
<text transform="translate(407.29 632) rotate(-90)" font-size="7" fill="#141414" text-anchor="end" stroke="#141414" stroke-width="0.12">C1S2</text>
<text transform="translate(417.06 632) rotate(-90)" font-size="7" fill="#141414" text-anchor="end" stroke="#141414" stroke-width="0.12">C1S3</text>
<text transform="translate(426.84 632) rotate(-90)" font-size="7" fill="#141414" text-anchor="end" stroke="#141414" stroke-width="0.12">C2S1</text>
<text transform="translate(436.62 632) rotate(-90)" font-size="7" fill="#141414" text-anchor="end" stroke="#141414" stroke-width="0.12">C2S2</text>
<text transform="translate(446.39 632) rotate(-90)" font-size="7" fill="#141414" text-anchor="end" stroke="#141414" stroke-width="0.12">C2S3</text>
<text transform="translate(456.17 632) rotate(-90)" font-size="7" fill="#141414" text-anchor="end" stroke="#141414" stroke-width="0.12">C3S1</text>
<text transform="translate(465.94 632) rotate(-90)" font-size="7" fill="#141414" text-anchor="end" stroke="#141414" stroke-width="0.12">C3S2</text>
<text transform="translate(475.72 632) rotate(-90)" font-size="7" fill="#141414" text-anchor="end" stroke="#141414" stroke-width="0.12">C3S3</text>
<text transform="translate(485.5 632) rotate(-90)" font-size="7" fill="#141414" text-anchor="end" stroke="#141414" stroke-width="0.12">C4S1</text>
<text transform="translate(495.27 632) rotate(-90)" font-size="7" fill="#141414" text-anchor="end" stroke="#141414" stroke-width="0.12">C4S2</text>
<text transform="translate(505.05 632) rotate(-90)" font-size="7" fill="#141414" text-anchor="end" stroke="#141414" stroke-width="0.12">C4S3</text>
<text transform="translate(514.83 632) rotate(-90)" font-size="7" fill="#141414" text-anchor="end" stroke="#141414" stroke-width="0.12">C5S1</text>
<text transform="translate(524.61 632) rotate(-90)" font-size="7" fill="#141414" text-anchor="end" stroke="#141414" stroke-width="0.12">C5S2</text>
<text transform="translate(534.38 632) rotate(-90)" font-size="7" fill="#141414" text-anchor="end" stroke="#141414" stroke-width="0.12">C5S3</text>
<text transform="translate(544.16 632) rotate(-90)" font-size="7" fill="#141414" text-anchor="end" stroke="#141414" stroke-width="0.12">C6S1</text>
<text transform="translate(553.93 632) rotate(-90)" font-size="7" fill="#141414" text-anchor="end" stroke="#141414" stroke-width="0.12">C6S2</text>
<text transform="translate(563.71 632) rotate(-90)" font-size="7" fill="#141414" text-anchor="end" stroke="#141414" stroke-width="0.12">C6S3</text>
<text transform="translate(573.49 632) rotate(-90)" font-size="7" fill="#141414" text-anchor="end" stroke="#141414" stroke-width="0.12">C7S1</text>
<text transform="translate(583.26 632) rotate(-90)" font-size="7" fill="#141414" text-anchor="end" stroke="#141414" stroke-width="0.12">C7S2</text>
<text transform="translate(593.04 632) rotate(-90)" font-size="7" fill="#141414" text-anchor="end" stroke="#141414" stroke-width="0.12">C7S3</text>
<text transform="translate(602.82 632) rotate(-90)" font-size="7" fill="#141414" text-anchor="end" stroke="#141414" stroke-width="0.12">C8S1</text>
<text transform="translate(612.6 632) rotate(-90)" font-size="7" fill="#141414" text-anchor="end" stroke="#141414" stroke-width="0.12">C8S2</text>
<text transform="translate(622.37 632) rotate(-90)" font-size="7" fill="#141414" text-anchor="end" stroke="#141414" stroke-width="0.12">C8S3</text>
<text transform="translate(632.15 632) rotate(-90)" font-size="7" fill="#141414" text-anchor="end" stroke="#141414" stroke-width="0.12">C9S1</text>
<text transform="translate(641.92 632) rotate(-90)" font-size="7" fill="#141414" text-anchor="end" stroke="#141414" stroke-width="0.12">C9S2</text>
<text transform="translate(651.7 632) rotate(-90)" font-size="7" fill="#141414" text-anchor="end" stroke="#141414" stroke-width="0.12">C9S3</text>
<text transform="translate(661.48 632) rotate(-90)" font-size="7" fill="#141414" text-anchor="end" stroke="#141414" stroke-width="0.12">C10S1</text>
<text transform="translate(671.25 632) rotate(-90)" font-size="7" fill="#141414" text-anchor="end" stroke="#141414" stroke-width="0.12">C10S2</text>
<text transform="translate(681.03 632) rotate(-90)" font-size="7" fill="#141414" text-anchor="end" stroke="#141414" stroke-width="0.12">C10S3</text>
<text transform="translate(363.1 532) rotate(-90)" font-size="9.3" fill="#141414" text-anchor="middle" stroke="#141414" stroke-width="0.2">Al concentration (mg/L)</text>
<text transform="translate(531.5 456.7)" font-size="14.5" fill="#111" text-anchor="middle">(f)</text>
<rect x="394.9" y="39.5" width="6.7" height="146.8" fill="#0070c0"/>
<rect x="403.3" y="78.2" width="6.7" height="108.1" fill="#e97132"/>
<text transform="translate(402.29 198.6)" font-size="7.6" fill="#141414" text-anchor="middle" stroke="#141414" stroke-width="0.2">C1</text>
<rect x="424.27" y="75" width="6.7" height="111.3" fill="#0070c0"/>
<rect x="432.67" y="85" width="6.7" height="101.3" fill="#e97132"/>
<text transform="translate(431.67 198.6)" font-size="7.6" fill="#141414" text-anchor="middle" stroke="#141414" stroke-width="0.2">C2</text>
<rect x="453.64" y="84.2" width="6.7" height="102.1" fill="#0070c0"/>
<rect x="462.04" y="76.3" width="6.7" height="110" fill="#e97132"/>
<text transform="translate(461.05 198.6)" font-size="7.6" fill="#141414" text-anchor="middle" stroke="#141414" stroke-width="0.2">C3</text>
<rect x="483.01" y="75.8" width="6.7" height="110.5" fill="#0070c0"/>
<rect x="491.41" y="71.2" width="6.7" height="115.1" fill="#e97132"/>
<text transform="translate(490.43 198.6)" font-size="7.6" fill="#141414" text-anchor="middle" stroke="#141414" stroke-width="0.2">C4</text>
<rect x="512.38" y="82.4" width="6.7" height="103.9" fill="#0070c0"/>
<rect x="520.78" y="93.1" width="6.7" height="93.2" fill="#e97132"/>
<text transform="translate(519.81 198.6)" font-size="7.6" fill="#141414" text-anchor="middle" stroke="#141414" stroke-width="0.2">C5</text>
<rect x="541.75" y="78.7" width="6.7" height="107.6" fill="#0070c0"/>
<rect x="550.15" y="87.4" width="6.7" height="98.9" fill="#e97132"/>
<text transform="translate(549.19 198.6)" font-size="7.6" fill="#141414" text-anchor="middle" stroke="#141414" stroke-width="0.2">C6</text>
<rect x="571.12" y="87.9" width="6.7" height="98.4" fill="#0070c0"/>
<rect x="579.52" y="87.9" width="6.7" height="98.4" fill="#e97132"/>
<text transform="translate(578.57 198.6)" font-size="7.6" fill="#141414" text-anchor="middle" stroke="#141414" stroke-width="0.2">C7</text>
<rect x="600.49" y="84.6" width="6.7" height="101.7" fill="#0070c0"/>
<rect x="608.89" y="76.1" width="6.7" height="110.2" fill="#e97132"/>
<text transform="translate(607.95 198.6)" font-size="7.6" fill="#141414" text-anchor="middle" stroke="#141414" stroke-width="0.2">C8</text>
<rect x="629.86" y="56.8" width="6.7" height="129.5" fill="#0070c0"/>
<rect x="638.26" y="51.3" width="6.7" height="135" fill="#e97132"/>
<text transform="translate(637.33 198.6)" font-size="7.6" fill="#141414" text-anchor="middle" stroke="#141414" stroke-width="0.2">C9</text>
<rect x="659.23" y="52" width="6.7" height="134.3" fill="#0070c0"/>
<rect x="667.63" y="54.2" width="6.7" height="132.1" fill="#e97132"/>
<text transform="translate(666.71 198.6)" font-size="7.6" fill="#141414" text-anchor="middle" stroke="#141414" stroke-width="0.2">C10</text>
<line x1="385.1" y1="22.6" x2="682" y2="22.6" stroke="#000" stroke-width="1.1" stroke-opacity="0.78"/>
<line x1="681.4" y1="23.1" x2="681.4" y2="185.7" stroke="#000" stroke-width="1.2" stroke-opacity="0.72"/>
<line x1="387.6" y1="23.1" x2="387.6" y2="185.7" stroke="#000" stroke-width="1.1" stroke-opacity="0.7"/>
<line x1="385.1" y1="186.3" x2="682" y2="186.3" stroke="#000" stroke-width="1.2" stroke-opacity="0.75"/>
<text transform="translate(380.9 188.8) scale(0.9 1)" font-size="8.4" fill="#141414" text-anchor="end" stroke="#141414" stroke-width="0.2">0</text>
<line x1="385.1" y1="162.91" x2="387.1" y2="162.91" stroke="#000" stroke-width="1" stroke-opacity="0.7"/>
<text transform="translate(380.9 165.41) scale(0.9 1)" font-size="8.4" fill="#141414" text-anchor="end" stroke="#141414" stroke-width="0.2">500</text>
<line x1="385.1" y1="139.53" x2="387.1" y2="139.53" stroke="#000" stroke-width="1" stroke-opacity="0.7"/>
<text transform="translate(380.9 142.03) scale(0.9 1)" font-size="8.4" fill="#141414" text-anchor="end" stroke="#141414" stroke-width="0.2">1000</text>
<line x1="385.1" y1="116.14" x2="387.1" y2="116.14" stroke="#000" stroke-width="1" stroke-opacity="0.7"/>
<text transform="translate(380.9 118.64) scale(0.9 1)" font-size="8.4" fill="#141414" text-anchor="end" stroke="#141414" stroke-width="0.2">1500</text>
<line x1="385.1" y1="92.76" x2="387.1" y2="92.76" stroke="#000" stroke-width="1" stroke-opacity="0.7"/>
<text transform="translate(380.9 95.26) scale(0.9 1)" font-size="8.4" fill="#141414" text-anchor="end" stroke="#141414" stroke-width="0.2">2000</text>
<line x1="385.1" y1="69.37" x2="387.1" y2="69.37" stroke="#000" stroke-width="1" stroke-opacity="0.7"/>
<text transform="translate(380.9 71.87) scale(0.9 1)" font-size="8.4" fill="#141414" text-anchor="end" stroke="#141414" stroke-width="0.2">2500</text>
<line x1="385.1" y1="45.99" x2="387.1" y2="45.99" stroke="#000" stroke-width="1" stroke-opacity="0.7"/>
<text transform="translate(380.9 48.49) scale(0.9 1)" font-size="8.4" fill="#141414" text-anchor="end" stroke="#141414" stroke-width="0.2">3000</text>
<text transform="translate(380.9 25.1) scale(0.9 1)" font-size="8.4" fill="#141414" text-anchor="end" stroke="#141414" stroke-width="0.2">3500</text>
<rect x="464.9" y="36.9" width="3.4" height="3.5" fill="#0070c0"/>
<text transform="translate(470.2 41.3)" font-size="7.6" fill="#141414" stroke="#141414" stroke-width="0.2">Ca extraction</text>
<rect x="541.8" y="36.9" width="3.4" height="3.5" fill="#e97132"/>
<text transform="translate(547 41.3)" font-size="7.6" fill="#141414" stroke="#141414" stroke-width="0.2">Ca carbonation</text>
<text transform="translate(358.4 100.8) rotate(-90)" font-size="9.3" fill="#141414" text-anchor="middle" stroke="#141414" stroke-width="0.2">Ca extraction or carbonation (mg/L)</text>
<text transform="translate(533.9 15.2)" font-size="15.4" fill="#111" text-anchor="middle">(b)</text>
<line x1="164.8" y1="689.3" x2="549.4" y2="689.3" stroke="#000" stroke-width="1.1" stroke-opacity="0.8"/>
<line x1="548.9" y1="689.8" x2="548.9" y2="851.9" stroke="#000" stroke-width="1.1" stroke-opacity="0.8"/>
<line x1="167.3" y1="689.8" x2="167.3" y2="851.9" stroke="#000" stroke-width="1.1" stroke-opacity="0.8"/>
<line x1="164.8" y1="852.4" x2="549.4" y2="852.4" stroke="#000" stroke-width="1.1" stroke-opacity="0.8"/>
<text transform="translate(158.9 855.4) scale(0.88 1)" font-size="8.6" fill="#141414" text-anchor="end" stroke="#141414" stroke-width="0.2">7.0</text>
<line x1="164.8" y1="825.22" x2="166.8" y2="825.22" stroke="#000" stroke-width="1" stroke-opacity="0.8"/>
<text transform="translate(158.9 828.22) scale(0.88 1)" font-size="8.6" fill="#141414" text-anchor="end" stroke="#141414" stroke-width="0.2">7.5</text>
<line x1="164.8" y1="798.03" x2="166.8" y2="798.03" stroke="#000" stroke-width="1" stroke-opacity="0.8"/>
<text transform="translate(158.9 801.03) scale(0.88 1)" font-size="8.6" fill="#141414" text-anchor="end" stroke="#141414" stroke-width="0.2">8.0</text>
<line x1="164.8" y1="770.85" x2="166.8" y2="770.85" stroke="#000" stroke-width="1" stroke-opacity="0.8"/>
<text transform="translate(158.9 773.85) scale(0.88 1)" font-size="8.6" fill="#141414" text-anchor="end" stroke="#141414" stroke-width="0.2">8.5</text>
<line x1="164.8" y1="743.67" x2="166.8" y2="743.67" stroke="#000" stroke-width="1" stroke-opacity="0.8"/>
<text transform="translate(158.9 746.67) scale(0.88 1)" font-size="8.6" fill="#141414" text-anchor="end" stroke="#141414" stroke-width="0.2">9.0</text>
<line x1="164.8" y1="716.48" x2="166.8" y2="716.48" stroke="#000" stroke-width="1" stroke-opacity="0.8"/>
<text transform="translate(158.9 719.48) scale(0.88 1)" font-size="8.6" fill="#141414" text-anchor="end" stroke="#141414" stroke-width="0.2">9.5</text>
<text transform="translate(158.9 692.3) scale(0.88 1)" font-size="8.6" fill="#141414" text-anchor="end" stroke="#141414" stroke-width="0.2">10.0</text>
<polyline points="174.2,749.1 186.9,737.3 199.6,798 212.3,748.3 225,734.3 237.7,798 250.4,745.7 263.1,730.9 275.8,798 288.5,747.9 301.2,734.3 313.9,798.4 326.6,747.2 339.3,735.8 352,798.4 364.7,747.2 377.4,737.3 390.1,798.4 402.8,747 415.5,738.2 428.2,798.6 440.9,749.2 453.6,738.1 466.3,798.6 479,752.7 491.7,735.1 504.4,798.6 517.1,753.2 529.8,739.6 542.5,797.6" fill="none" stroke="#1a1a1a" stroke-width="1.1" stroke-linejoin="round"/>
<circle cx="174.2" cy="749.1" r="2.6" fill="#14628a" stroke="#1a1a1a" stroke-width="0.5"/>
<circle cx="186.9" cy="737.3" r="2.6" fill="#14628a" stroke="#1a1a1a" stroke-width="0.5"/>
<circle cx="199.6" cy="798" r="2.6" fill="#14628a" stroke="#1a1a1a" stroke-width="0.5"/>
<circle cx="212.3" cy="748.3" r="2.6" fill="#14628a" stroke="#1a1a1a" stroke-width="0.5"/>
<circle cx="225" cy="734.3" r="2.6" fill="#14628a" stroke="#1a1a1a" stroke-width="0.5"/>
<circle cx="237.7" cy="798" r="2.6" fill="#14628a" stroke="#1a1a1a" stroke-width="0.5"/>
<circle cx="250.4" cy="745.7" r="2.6" fill="#14628a" stroke="#1a1a1a" stroke-width="0.5"/>
<circle cx="263.1" cy="730.9" r="2.6" fill="#14628a" stroke="#1a1a1a" stroke-width="0.5"/>
<circle cx="275.8" cy="798" r="2.6" fill="#14628a" stroke="#1a1a1a" stroke-width="0.5"/>
<circle cx="288.5" cy="747.9" r="2.6" fill="#14628a" stroke="#1a1a1a" stroke-width="0.5"/>
<circle cx="301.2" cy="734.3" r="2.6" fill="#14628a" stroke="#1a1a1a" stroke-width="0.5"/>
<circle cx="313.9" cy="798.4" r="2.6" fill="#14628a" stroke="#1a1a1a" stroke-width="0.5"/>
<circle cx="326.6" cy="747.2" r="2.6" fill="#14628a" stroke="#1a1a1a" stroke-width="0.5"/>
<circle cx="339.3" cy="735.8" r="2.6" fill="#14628a" stroke="#1a1a1a" stroke-width="0.5"/>
<circle cx="352" cy="798.4" r="2.6" fill="#14628a" stroke="#1a1a1a" stroke-width="0.5"/>
<circle cx="364.7" cy="747.2" r="2.6" fill="#14628a" stroke="#1a1a1a" stroke-width="0.5"/>
<circle cx="377.4" cy="737.3" r="2.6" fill="#14628a" stroke="#1a1a1a" stroke-width="0.5"/>
<circle cx="390.1" cy="798.4" r="2.6" fill="#14628a" stroke="#1a1a1a" stroke-width="0.5"/>
<circle cx="402.8" cy="747" r="2.6" fill="#14628a" stroke="#1a1a1a" stroke-width="0.5"/>
<circle cx="415.5" cy="738.2" r="2.6" fill="#14628a" stroke="#1a1a1a" stroke-width="0.5"/>
<circle cx="428.2" cy="798.6" r="2.6" fill="#14628a" stroke="#1a1a1a" stroke-width="0.5"/>
<circle cx="440.9" cy="749.2" r="2.6" fill="#14628a" stroke="#1a1a1a" stroke-width="0.5"/>
<circle cx="453.6" cy="738.1" r="2.6" fill="#14628a" stroke="#1a1a1a" stroke-width="0.5"/>
<circle cx="466.3" cy="798.6" r="2.6" fill="#14628a" stroke="#1a1a1a" stroke-width="0.5"/>
<circle cx="479" cy="752.7" r="2.6" fill="#14628a" stroke="#1a1a1a" stroke-width="0.5"/>
<circle cx="491.7" cy="735.1" r="2.6" fill="#14628a" stroke="#1a1a1a" stroke-width="0.5"/>
<circle cx="504.4" cy="798.6" r="2.6" fill="#14628a" stroke="#1a1a1a" stroke-width="0.5"/>
<circle cx="517.1" cy="753.2" r="2.6" fill="#14628a" stroke="#1a1a1a" stroke-width="0.5"/>
<circle cx="529.8" cy="739.6" r="2.6" fill="#14628a" stroke="#1a1a1a" stroke-width="0.5"/>
<circle cx="542.5" cy="797.6" r="2.6" fill="#14628a" stroke="#1a1a1a" stroke-width="0.5"/>
<text transform="translate(175.1 861) rotate(-45)" font-size="6.8" fill="#141414" text-anchor="end" stroke="#141414" stroke-width="0.2">C1S1</text>
<text transform="translate(187.8 861) rotate(-45)" font-size="6.8" fill="#141414" text-anchor="end" stroke="#141414" stroke-width="0.2">C1S2</text>
<text transform="translate(200.5 861) rotate(-45)" font-size="6.8" fill="#141414" text-anchor="end" stroke="#141414" stroke-width="0.2">C1S3</text>
<text transform="translate(213.2 861) rotate(-45)" font-size="6.8" fill="#141414" text-anchor="end" stroke="#141414" stroke-width="0.2">C2S1</text>
<text transform="translate(225.9 861) rotate(-45)" font-size="6.8" fill="#141414" text-anchor="end" stroke="#141414" stroke-width="0.2">C2S2</text>
<text transform="translate(238.6 861) rotate(-45)" font-size="6.8" fill="#141414" text-anchor="end" stroke="#141414" stroke-width="0.2">C2S3</text>
<text transform="translate(251.3 861) rotate(-45)" font-size="6.8" fill="#141414" text-anchor="end" stroke="#141414" stroke-width="0.2">C3S1</text>
<text transform="translate(264 861) rotate(-45)" font-size="6.8" fill="#141414" text-anchor="end" stroke="#141414" stroke-width="0.2">C3S2</text>
<text transform="translate(276.7 861) rotate(-45)" font-size="6.8" fill="#141414" text-anchor="end" stroke="#141414" stroke-width="0.2">C3S3</text>
<text transform="translate(289.4 861) rotate(-45)" font-size="6.8" fill="#141414" text-anchor="end" stroke="#141414" stroke-width="0.2">C4S1</text>
<text transform="translate(302.1 861) rotate(-45)" font-size="6.8" fill="#141414" text-anchor="end" stroke="#141414" stroke-width="0.2">C4S2</text>
<text transform="translate(314.8 861) rotate(-45)" font-size="6.8" fill="#141414" text-anchor="end" stroke="#141414" stroke-width="0.2">C4S3</text>
<text transform="translate(327.5 861) rotate(-45)" font-size="6.8" fill="#141414" text-anchor="end" stroke="#141414" stroke-width="0.2">C5S1</text>
<text transform="translate(340.2 861) rotate(-45)" font-size="6.8" fill="#141414" text-anchor="end" stroke="#141414" stroke-width="0.2">C5S2</text>
<text transform="translate(352.9 861) rotate(-45)" font-size="6.8" fill="#141414" text-anchor="end" stroke="#141414" stroke-width="0.2">C5S3</text>
<text transform="translate(365.6 861) rotate(-45)" font-size="6.8" fill="#141414" text-anchor="end" stroke="#141414" stroke-width="0.2">C6S1</text>
<text transform="translate(378.3 861) rotate(-45)" font-size="6.8" fill="#141414" text-anchor="end" stroke="#141414" stroke-width="0.2">C6S2</text>
<text transform="translate(391 861) rotate(-45)" font-size="6.8" fill="#141414" text-anchor="end" stroke="#141414" stroke-width="0.2">C6S3</text>
<text transform="translate(403.7 861) rotate(-45)" font-size="6.8" fill="#141414" text-anchor="end" stroke="#141414" stroke-width="0.2">C7S1</text>
<text transform="translate(416.4 861) rotate(-45)" font-size="6.8" fill="#141414" text-anchor="end" stroke="#141414" stroke-width="0.2">C7S2</text>
<text transform="translate(429.1 861) rotate(-45)" font-size="6.8" fill="#141414" text-anchor="end" stroke="#141414" stroke-width="0.2">C7S3</text>
<text transform="translate(441.8 861) rotate(-45)" font-size="6.8" fill="#141414" text-anchor="end" stroke="#141414" stroke-width="0.2">C8S1</text>
<text transform="translate(454.5 861) rotate(-45)" font-size="6.8" fill="#141414" text-anchor="end" stroke="#141414" stroke-width="0.2">C8S2</text>
<text transform="translate(467.2 861) rotate(-45)" font-size="6.8" fill="#141414" text-anchor="end" stroke="#141414" stroke-width="0.2">C8S3</text>
<text transform="translate(479.9 861) rotate(-45)" font-size="6.8" fill="#141414" text-anchor="end" stroke="#141414" stroke-width="0.2">C9S1</text>
<text transform="translate(492.6 861) rotate(-45)" font-size="6.8" fill="#141414" text-anchor="end" stroke="#141414" stroke-width="0.2">C9S2</text>
<text transform="translate(505.3 861) rotate(-45)" font-size="6.8" fill="#141414" text-anchor="end" stroke="#141414" stroke-width="0.2">C9S3</text>
<text transform="translate(518 861) rotate(-45)" font-size="6.8" fill="#141414" text-anchor="end" stroke="#141414" stroke-width="0.2">C10S1</text>
<text transform="translate(530.7 861) rotate(-45)" font-size="6.8" fill="#141414" text-anchor="end" stroke="#141414" stroke-width="0.2">C10S2</text>
<text transform="translate(543.4 861) rotate(-45)" font-size="6.8" fill="#141414" text-anchor="end" stroke="#141414" stroke-width="0.2">C10S3</text>
<text transform="translate(131.3 770.3) rotate(-90)" font-size="9.3" fill="#141414" text-anchor="middle" stroke="#141414" stroke-width="0.2">pH</text>
<text transform="translate(355.2 680.5)" font-size="14.5" fill="#111" text-anchor="middle">(g)</text>
<line x1="204.9" y1="287.6" x2="262.9" y2="266.9" stroke="#ff0000" stroke-width="1.6" stroke-linecap="round"/>
<polyline points="259.01,271.47 262.9,266.9 257,265.82" fill="none" stroke="#ff0000" stroke-width="1.6" stroke-linecap="round" stroke-linejoin="round"/>
<line x1="278.1" y1="264" x2="325.3" y2="264" stroke="#ff0000" stroke-width="1.6" stroke-linecap="round"/>
<polyline points="320.1,267 325.3,264 320.1,261" fill="none" stroke="#ff0000" stroke-width="1.6" stroke-linecap="round" stroke-linejoin="round"/>
<line x1="616.6" y1="299.8" x2="662.2" y2="285.8" stroke="#ff0000" stroke-width="1.6" stroke-linecap="round"/>
<polyline points="658.11,290.19 662.2,285.8 656.35,284.46" fill="none" stroke="#ff0000" stroke-width="1.6" stroke-linecap="round" stroke-linejoin="round"/>
<line x1="43.5" y1="575.2" x2="49.3" y2="601.9" stroke="#ff0000" stroke-width="1.6" stroke-linecap="round"/>
<polyline points="45.27,597.46 49.3,601.9 51.13,596.19" fill="none" stroke="#ff0000" stroke-width="1.6" stroke-linecap="round" stroke-linejoin="round"/>
<line x1="398.2" y1="582.7" x2="404.3" y2="622" stroke="#ff0000" stroke-width="1.6" stroke-linecap="round"/>
<polyline points="400.54,617.33 404.3,622 406.47,616.41" fill="none" stroke="#ff0000" stroke-width="1.6" stroke-linecap="round" stroke-linejoin="round"/>
</svg>
</body></html>
